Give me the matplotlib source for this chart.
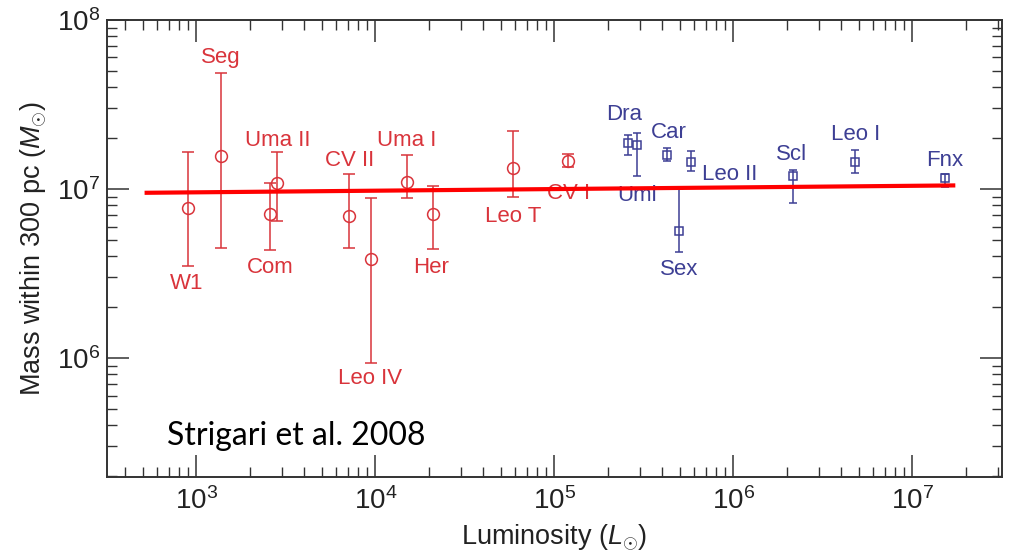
import numpy as np
import matplotlib
matplotlib.use('Agg')
import matplotlib.pyplot as plt
from matplotlib.ticker import LogLocator, NullFormatter

# ultra-faint dwarfs (red circles)
uf_names = ['W1', 'Seg', 'Com', 'Uma II', 'CV II', 'Leo IV', 'Uma I', 'Her', 'Leo T', 'CV I']
uf_lum = np.array([900, 1370, 2590, 2830, 7130, 9460, 15000, 21000, 58800, 118600])
uf_mass = np.array([7.7e6, 1.57e7, 7.1e6, 1.085e7, 6.9e6, 3.85e6, 1.10e7, 7.1e6, 1.33e7, 1.47e7])
uf_lo = np.array([3.5e6, 4.5e6, 4.35e6, 6.5e6, 4.45e6, 9.3e5, 8.9e6, 4.4e6, 9.0e6, 1.355e7])
uf_hi = np.array([1.66e7, 4.85e7, 1.08e7, 1.66e7, 1.23e7, 8.9e6, 1.60e7, 1.04e7, 2.20e7, 1.61e7])

# classical dwarfs (blue squares)
cl_names = ['Dra', 'Umi', 'Car', 'Leo II', 'Sex', 'Scl', 'Leo I', 'Fnx']
cl_lum = np.array([2.59e5, 2.89e5, 4.28e5, 5.77e5, 4.99e5, 2.14e6, 4.79e6, 1.52e7])
cl_mass = np.array([1.88e7, 1.82e7, 1.59e7, 1.45e7, 5.65e6, 1.20e7, 1.45e7, 1.16e7])
cl_lo = np.array([1.59e7, 1.19e7, 1.47e7, 1.27e7, 4.26e6, 8.3e6, 1.24e7, 1.03e7])
cl_hi = np.array([2.09e7, 2.15e7, 1.74e7, 1.68e7, 1.0e7, 1.30e7, 1.70e7, 1.22e7])

# common-mass fit line
fit_lum = np.array([527, 1.69e7])
fit_mass = np.array([9.5e6, 1.05e7])

# label offsets in pixels (dx, dy), y up
uf_off = [(-2, -75), (0, 98), (0, -53), (0, 43), (0, 56), (-1, -119), (0, 42), (-2, -53), (0, -48), (1, -33)]
cl_off = [(-4, 28), (0, -50), (1, 22), (39, -13), (0, -39), (-1, 21), (0, 27), (0, 18)]

RED = '#d9343b'
BLUE = '#3d3f94'

plt.rcParams['font.family'] = ['Liberation Sans', 'DejaVu Sans']
plt.rcParams['mathtext.fontset'] = 'custom'
plt.rcParams['mathtext.rm'] = 'Liberation Sans'
plt.rcParams['mathtext.it'] = 'Liberation Sans:italic'

fig = plt.figure(figsize=(10.09, 5.54), dpi=100)
ax = fig.add_axes([0.106, 0.139, 0.887, 0.825])

ax.errorbar(uf_lum, uf_mass, yerr=[uf_mass - uf_lo, uf_hi - uf_mass], fmt='o',
            mfc='none', mec=RED, mew=1.1, ms=8.5, ecolor=RED, elinewidth=1.1,
            capsize=4, capthick=1.1, zorder=3)
ax.errorbar(cl_lum, cl_mass, yerr=[cl_mass - cl_lo, cl_hi - cl_mass], fmt='s',
            mfc='none', mec=BLUE, mew=1.1, ms=6, ecolor=BLUE, elinewidth=1.1,
            capsize=3.2, capthick=1.1, zorder=3)
ax.plot(fit_lum, fit_mass, color='#ff0000', lw=3, zorder=5)

for name, x, y, (dx, dy) in zip(uf_names, uf_lum, uf_mass, uf_off):
    ax.annotate(name, (x, y), xytext=(dx, dy), textcoords='offset pixels',
                ha='center', va='center', color=RED, fontsize=16, zorder=4)
for name, x, y, (dx, dy) in zip(cl_names, cl_lum, cl_mass, cl_off):
    ax.annotate(name, (x, y), xytext=(dx, dy), textcoords='offset pixels',
                ha='center', va='center', color=BLUE, fontsize=16, zorder=4)

ax.set_xscale('log')
ax.set_yscale('log')
ax.set_xlim(10**2.5, 10**7.5)
ax.set_ylim(1.98e5, 1e8)

for a in (ax.xaxis, ax.yaxis):
    a.set_major_locator(LogLocator(base=10, numticks=20))
    a.set_minor_locator(LogLocator(base=10, subs=np.arange(2, 10), numticks=20))
    a.set_minor_formatter(NullFormatter())

ax.tick_params(which='both', direction='in', top=True, right=True, color='#333333')
ax.tick_params(which='major', length=16, width=1.1, labelsize=20, pad=7,
               labelcolor='#222222')
ax.tick_params(which='minor', length=7, width=1.0)
ax.tick_params(axis='y', which='major', pad=5)
for sp in ax.spines.values():
    sp.set_linewidth(1.4)
    sp.set_color('#333333')

ax.set_xlabel(r'Luminosity ($L_{\odot}$)', fontsize=19.5, labelpad=6, color='#222222')
ax.set_ylabel(r'Mass within 300 pc ($M_{\odot}$)', fontsize=19.5, labelpad=6, color='#222222')

# citation in the lower-left corner, placed in figure pixels
fig.text(167, 554 - 445, 'Strigari et al. 2008', transform=None, fontsize=23,
         family='Lato', color='black', va='baseline', ha='left')

fig.savefig('out.png', dpi=100)
